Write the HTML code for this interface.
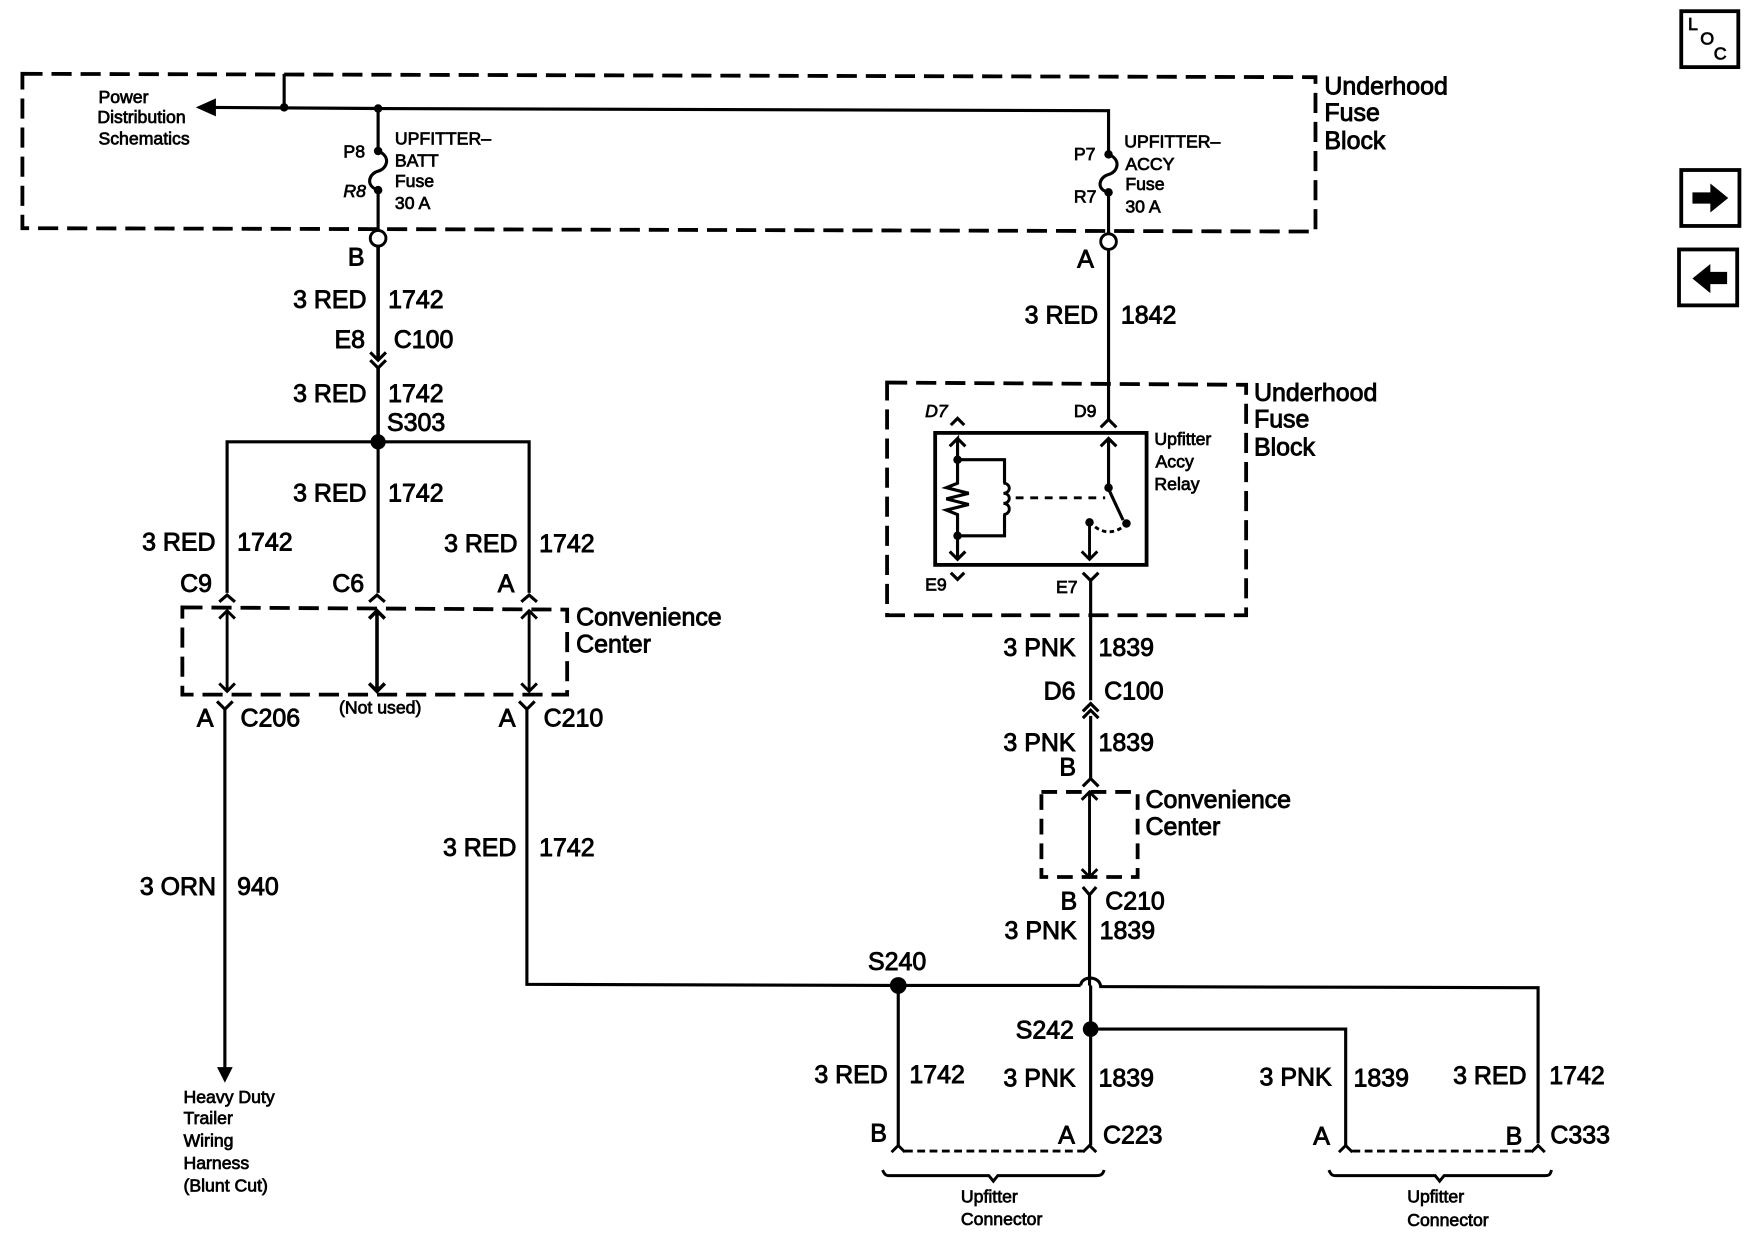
<!DOCTYPE html>
<html><head><meta charset="utf-8"><style>
html,body{margin:0;padding:0;background:#fff}
svg{display:block}
text{font-family:"Liberation Sans",sans-serif;fill:#000;stroke:#000}
.t{font-size:22.3px;stroke-width:.8px;transform:translateY(-.7px)}
.s{font-size:15.8px;stroke-width:.65px}
.w{fill:none;stroke:#000;stroke-width:2.8}
.n{fill:none;stroke:#000;stroke-width:2.6}
.d{fill:none;stroke:#000;stroke-width:3.4;stroke-dasharray:18 8}
.f{fill:#000;stroke:none}
</style></head><body>
<svg width="1754" height="1248" viewBox="0 0 1568 1115.7" xmlns="http://www.w3.org/2000/svg">
<rect width="1568" height="1115.7" fill="#fff"/>
<!-- dashed boxes -->
<path class="d" d="M20 66L1176 69V207L20 204Z"/>
<path class="d" d="M793 342L1114 344V550H793Z"/>
<path class="d" d="M163 543L507 545V621H163Z"/>
<path class="d" d="M931 708H1017V784H931Z" style="stroke-dasharray:14 8"/>
<!-- top wires -->
<path class="w" d="M190 96L338 97L991 99V126M254 66V96M338 96V133M338 172V206M991 172V208"/>
<path class="f" d="M175 96L193 88V104Z"/>
<circle class="f" cx="254" cy="96" r="3.8"/><circle class="f" cx="338" cy="97" r="3.8"/><circle class="f" cx="338" cy="135" r="3.8"/><circle class="f" cx="338" cy="170" r="3.8"/>
<circle class="f" cx="991" cy="138" r="3.8"/><circle class="f" cx="991" cy="172" r="3.8"/>
<path class="w" d="M991 126V138M338 135C350 140 346 151 338 153C330 155 326 166 338 170M991 138C1003 143 999 154 991 156C983 158 979 169 991 172"/>
<circle cx="338" cy="213" r="7" fill="#fff" stroke="#000" stroke-width="2.6"/>
<circle cx="991" cy="216" r="7" fill="#fff" stroke="#000" stroke-width="2.6"/>
<!-- left trunk -->
<path class="w" d="M338 220V322M338 328V395" style="stroke-width:3.2"/>
<path class="w" d="M331 315L338 322L345 315M331 322L338 329L345 322"/>
<circle class="f" cx="338" cy="395" r="6.8"/>
<path class="w" d="M203 530V395H473V530M338 395V530"/>
<path class="w" d="M196 538L203 532L210 538M330 538L337 532L344 538M466 538L473 532L480 538"/>
<path class="n" d="M203 546V618M473 546V618M196 553L203 546L210 553M466 553L473 546L480 553M196 611L203 618L210 611M466 611L473 618L480 611"/>
<path class="w" d="M337 546V618M330 553L337 546L344 553M330 611L337 618L344 611" style="stroke-width:3.2"/>
<path class="w" d="M194 627L201 634L208 627M464 627L471 634L478 627"/>
<path class="w" d="M201 634V956M471 634V880L803 881H966M966 881C967 872 983 872 984 882L1375 883V1022"/>
<path class="f" d="M194 954H208L201 968Z"/>
<circle class="f" cx="803" cy="881" r="7.5"/>
<path class="w" d="M803 881V1024M975 920H1203V1024M975 881V1024"/>
<circle class="f" cx="975" cy="920" r="7"/>
<!-- bottom connectors -->
<path class="n" d="M797 1030L803 1024L809 1030M968 1030L974 1024L980 1030M1197 1030L1203 1024L1209 1030M1369 1030L1375 1024L1381 1030"/>
<path class="n" d="M809 1029H968M1209 1029H1369" stroke-dasharray="7 4"/>
<path class="n" d="M789 1046C791 1051 793 1051 795 1051H884L888 1056L892 1051H980C984 1051 986 1050 987 1046M1188 1046C1190 1051 1192 1051 1194 1051H1283L1287 1056L1291 1051H1381C1385 1051 1386 1050 1387 1046"/>
<!-- right trunk and relay -->
<path class="w" d="M991 224V376"/>
<path class="w" d="M984 382L991 375L998 382"/>
<rect x="836" y="387" width="189" height="118" fill="none" stroke="#000" stroke-width="3.4"/>
<path class="w" d="M850 380L856 374L862 380M850 512L856 518L862 512"/>
<path class="w" d="M849 399L856 392V411M863 399L856 392M856 411H898V432M856 411V432L846 436L866 441L846 446L866 451L846 456L856 460V479H898V460M856 479V500M849 493L856 500L863 493"/>
<path class="n" d="M897 432C904 432 904 441 897 441C904 441 904 450 897 450C904 450 904 460 897 460"/>
<circle class="f" cx="856" cy="411" r="3.8"/><circle class="f" cx="856" cy="479" r="3.8"/>
<path class="n" d="M908 445H988" stroke-dasharray="7 6" stroke-width="3"/>
<path class="w" d="M991 392V435M984 399L991 392L998 399M990 435L1004 465"/>
<circle class="f" cx="991" cy="436" r="3.8"/><circle class="f" cx="1007" cy="468" r="3.8"/><circle class="f" cx="974" cy="467" r="3.8"/>
<path class="n" d="M974 467V500M967 493L974 500L981 493"/>
<path class="n" d="M979 471C988 478 998 476 1005 470" stroke-dasharray="4 3"/>
<path class="w" d="M968 512L975 519L982 512M975 519V626"/>
<path class="w" d="M968 636L975 629L982 636M968 642L975 635L982 642M975 640V696M968 703L975 696L982 703"/>
<path class="n" d="M974 708V784M967 715L974 708L981 715M967 777L974 784L981 777"/>
<path class="w" d="M968 793L974 800L980 793M974 800V881"/>
<!-- icons -->
<rect x="1503" y="10" width="51" height="50" fill="none" stroke="#000" stroke-width="3.4"/>
<rect x="1503" y="152" width="52" height="50" fill="none" stroke="#000" stroke-width="3.4"/>
<rect x="1501" y="223" width="52" height="50" fill="none" stroke="#000" stroke-width="3.4"/>
<path class="f" d="M1513 172H1529V164L1545 177L1529 190V182H1513Z"/>
<path class="f" d="M1544 243H1529V236L1513 249L1529 262V254H1544Z"/>
<text class="s" x="1509" y="27" style="font-size:16px">L</text>
<text class="s" x="1520" y="40" style="font-size:16px">O</text>
<text class="s" x="1532" y="53" style="font-size:16px">C</text>
<!-- large labels -->
<g class="g">
<text class="t" x="1184" y="85">Underhood</text><text class="t" x="1184" y="109">Fuse</text><text class="t" x="1184" y="134">Block</text>
<text class="t" x="311" y="238">B</text>
<text class="t" x="262" y="276">3 RED</text><text class="t" x="347" y="276">1742</text>
<text class="t" x="299" y="312">E8</text><text class="t" x="352" y="312">C100</text>
<text class="t" x="262" y="360">3 RED</text><text class="t" x="347" y="360">1742</text>
<text class="t" x="346" y="386">S303</text>
<text class="t" x="262" y="449">3 RED</text><text class="t" x="347" y="449">1742</text>
<text class="t" x="127" y="493">3 RED</text><text class="t" x="212" y="493">1742</text>
<text class="t" x="397" y="494">3 RED</text><text class="t" x="482" y="494">1742</text>
<text class="t" x="161" y="530">C9</text><text class="t" x="297" y="530">C6</text><text class="t" x="445" y="530">A</text>
<text class="t" x="176" y="650">A</text><text class="t" x="215" y="650">C206</text>
<text class="t" x="446" y="650">A</text><text class="t" x="486" y="650">C210</text>
<text class="t" x="515" y="560">Convenience</text><text class="t" x="515" y="584">Center</text>
<text class="t" x="396" y="766">3 RED</text><text class="t" x="482" y="766">1742</text>
<text class="t" x="125" y="801">3 ORN</text><text class="t" x="212" y="801">940</text>
<text class="t" x="963" y="240">A</text>
<text class="t" x="916" y="290">3 RED</text><text class="t" x="1002" y="290">1842</text>
<text class="t" x="1121" y="359">Underhood</text><text class="t" x="1121" y="383">Fuse</text><text class="t" x="1121" y="408">Block</text>
<text class="t" x="897" y="587">3 PNK</text><text class="t" x="982" y="587">1839</text>
<text class="t" x="933" y="626">D6</text><text class="t" x="987" y="626">C100</text>
<text class="t" x="897" y="672">3 PNK</text><text class="t" x="982" y="672">1839</text>
<text class="t" x="947" y="694">B</text>
<text class="t" x="1024" y="723">Convenience</text><text class="t" x="1024" y="747">Center</text>
<text class="t" x="948" y="814">B</text><text class="t" x="988" y="814">C210</text>
<text class="t" x="898" y="840">3 PNK</text><text class="t" x="983" y="840">1839</text>
<text class="t" x="776" y="868">S240</text><text class="t" x="908" y="929">S242</text>
<text class="t" x="728" y="969">3 RED</text><text class="t" x="813" y="969">1742</text>
<text class="t" x="897" y="972">3 PNK</text><text class="t" x="982" y="972">1839</text>
<text class="t" x="1126" y="971">3 PNK</text><text class="t" x="1210" y="972">1839</text>
<text class="t" x="1299" y="970">3 RED</text><text class="t" x="1385" y="970">1742</text>
<text class="t" x="778" y="1021">B</text><text class="t" x="946" y="1023">A</text><text class="t" x="986" y="1023">C223</text>
<text class="t" x="1174" y="1024">A</text><text class="t" x="1346" y="1024">B</text><text class="t" x="1386" y="1023">C333</text>
</g>
<!-- small labels -->
<text class="s" x="88" y="92">Power</text><text class="s" x="87" y="110">Distribution</text><text class="s" x="88" y="129">Schematics</text>
<text class="s" x="353" y="129">UPFITTER–</text><text class="s" x="353" y="149">BATT</text><text class="s" x="353" y="167">Fuse</text><text class="s" x="353" y="187">30 A</text>
<text class="s" x="307" y="141">P8</text><text class="s" x="307" y="176" font-style="italic">R8</text>
<text class="s" x="1005" y="132">UPFITTER–</text><text class="s" x="1006" y="152">ACCY</text><text class="s" x="1006" y="170">Fuse</text><text class="s" x="1006" y="190">30 A</text>
<text class="s" x="960" y="143">P7</text><text class="s" x="960" y="181">R7</text>
<text class="s" x="827" y="373" font-style="italic">D7</text><text class="s" x="960" y="373">D9</text>
<text class="s" x="827" y="528">E9</text><text class="s" x="944" y="530">E7</text>
<text class="s" x="1032" y="398">Upfitter</text><text class="s" x="1033" y="418">Accy</text><text class="s" x="1032" y="438">Relay</text>
<text class="s" x="303" y="638">(Not used)</text>
<text class="s" x="164" y="986">Heavy Duty</text><text class="s" x="164" y="1005">Trailer</text><text class="s" x="164" y="1025">Wiring</text><text class="s" x="164" y="1045">Harness</text><text class="s" x="164" y="1065">(Blunt Cut)</text>
<text class="s" x="859" y="1075">Upfitter</text><text class="s" x="859" y="1095">Connector</text>
<text class="s" x="1258" y="1075">Upfitter</text><text class="s" x="1258" y="1096">Connector</text>
</svg>
</body></html>
